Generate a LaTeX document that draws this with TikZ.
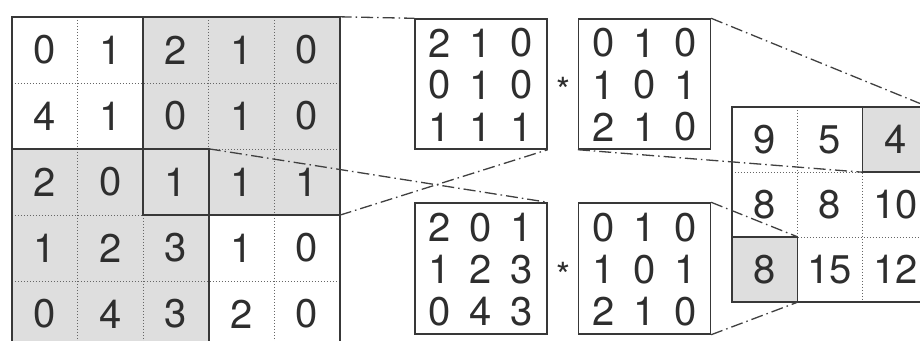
\documentclass[tikz,border=0pt]{standalone}
\usepackage{fontspec}
\setmainfont{TeX Gyre Heros}
\usetikzlibrary{calc}
\begin{document}
\begin{tikzpicture}[x=1pt,y=-1pt,
  txt/.style={text=black!82,font=\fontsize{40}{40}\selectfont,inner sep=0pt},
  cell/.style={txt,minimum width=65.5pt,minimum height=66pt},
  ocell/.style={txt,minimum width=65.3pt,minimum height=65pt},
  digit/.style={txt},
  shade/.style={fill=black!13},
  gridline/.style={draw=black!60,line width=0.9pt,dash pattern=on 1pt off 2pt},
  frame/.style={draw=black!78,line width=1.8pt},
  mbox/.style={draw=black!78,line width=1.4pt,minimum width=132pt,minimum height=130pt,inner sep=0pt},
  proj/.style={draw=black!75,line width=1.3pt,dash pattern=on 12pt off 4pt on 1.5pt off 4pt},
  star/.style={txt,font=\fontsize{36}{36}\selectfont}]
\useasboundingbox (0,0) rectangle (920,340);
\clip (0,0) rectangle (920,340);
\fill[white] (0,0) rectangle (920,340);

% ---------- left 5x5 input grid ----------
\foreach \r/\row in {1/{0,1,2,1,0},2/{4,1,0,1,0},3/{2,0,1,1,1},4/{1,2,3,1,0},5/{0,4,3,2,0}}{
  \foreach \v [count=\c] in \row {
    \node[cell] (c\r\c) at ({12+65.5*(\c-0.5)},{17+66*(\r-0.5)}) {};
  }
}
\fill[shade] (c13.north west) rectangle (c35.south east);
\fill[shade] (c31.north west) rectangle (c53.south east);
\foreach \c in {1,2,3,4}{
  \draw[gridline] (c1\c.north east) -- (c5\c.south east);
}
\foreach \r in {1,2,3,4}{
  \draw[gridline] (c\r1.south west) -- (c\r5.south east);
}
\foreach \r/\row in {1/{0,1,2,1,0},2/{4,1,0,1,0},3/{2,0,1,1,1},4/{1,2,3,1,0},5/{0,4,3,2,0}}{
  \foreach \v [count=\c] in \row {
    \node[txt] at (c\r\c) {\v};
  }
}
\draw[frame] (c13.north west) rectangle (c35.south east);
\draw[frame] (c31.north west) rectangle (c53.south east);
\draw[frame] (c11.north west) rectangle (c55.south east);

% ---------- patches and kernels ----------
\node[mbox] (p1) at (481,84) {};
\node[mbox] (k1) at (644.5,84) {};
\node[mbox,minimum height=131pt] (p2) at (481,268.5) {};
\node[mbox,minimum height=131pt] (k2) at (644.5,268.5) {};
\node[star] (s1) at (563,90) {*};
\node[star] (s2) at (563,275) {*};

\foreach \bx/\vals in {p1/{2,1,0,0,1,0,1,1,1},k1/{0,1,0,1,0,1,2,1,0},p2/{2,0,1,1,2,3,0,4,3},k2/{0,1,0,1,0,1,2,1,0}}{
  \foreach \v [count=\i from 0] in \vals {
    \pgfmathtruncatemacro{\cc}{mod(\i,3)}
    \pgfmathtruncatemacro{\rr}{div(\i,3)}
    \node[digit] at ($(\bx.center)+({41*(\cc-1)},{42*(\rr-1)+1})$) {\v};
  }
}

% ---------- output 3x3 grid ----------
\foreach \r/\row in {1/{9,5,4},2/{8,8,10},3/{8,15,12}}{
  \foreach \v [count=\c] in \row {
    \node[ocell] (o\r\c) at ({732+65.3*(\c-0.5)},{107+65*(\r-0.5)}) {};
  }
}
\fill[shade] (o13.north west) rectangle (o13.south east);
\fill[shade] (o31.north west) rectangle (o31.south east);
\foreach \c in {1,2}{
  \draw[gridline] (o1\c.north east) -- (o3\c.south east);
}
\foreach \r in {1,2}{
  \draw[gridline] (o\r1.south west) -- (o\r3.south east);
}
\foreach \r/\row in {1/{9,5,4},2/{8,8,10},3/{8,15,12}}{
  \foreach \v [count=\c] in \row {
    \node[txt] at (o\r\c) {\v};
  }
}
\draw[frame] (o13.north west) rectangle (o13.south east);
\draw[frame] (o31.north west) rectangle (o31.south east);
\draw[frame] (o11.north west) rectangle (o33.south east);

% ---------- projection lines ----------
\draw[proj] (c15.north east) -- (p1.north west);
\draw[proj] (c33.north east) -- (p2.north east);
\draw[proj] (c35.south east) -- (p1.south east);
\draw[proj] (k1.north east) -- (o13.north east);
\draw[proj] (k1.south west) -- (o13.south west);
\draw[proj] (k2.north east) -- (o31.north east);
\draw[proj] (k2.south east) -- (o31.south east);
\end{tikzpicture}
\end{document}
